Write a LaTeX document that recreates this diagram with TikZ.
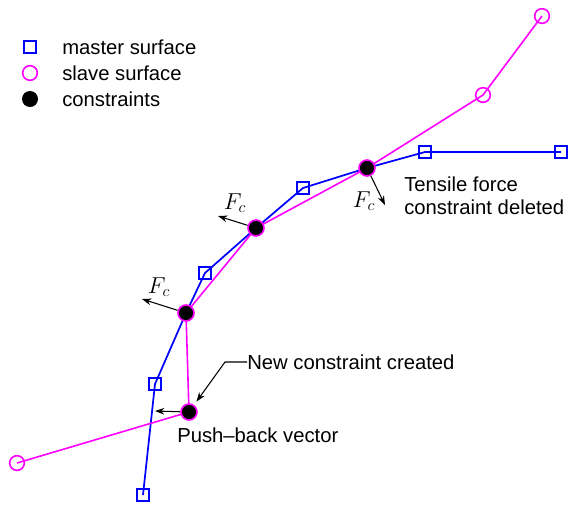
\documentclass[tikz,border=0pt]{standalone}
\usepackage{fontspec}
\setmainfont{Liberation Sans}
\usetikzlibrary{backgrounds,arrows.meta}
\definecolor{mblue}{RGB}{0,0,255}
\definecolor{smag}{RGB}{255,0,255}
\begin{document}
\begin{tikzpicture}[x=0.75pt,y=-0.75pt,>=stealth]
  \tikzstyle{master}=[draw=mblue, line width=1.3pt, minimum size=9.5pt, inner sep=0pt]
  \tikzstyle{slave}=[draw=smag, circle, line width=1.2pt, minimum size=11pt, inner sep=0pt]
  \tikzstyle{constraint}=[draw=smag, fill=black, circle, line width=1.2pt, minimum size=12pt, inner sep=0pt]
  \tikzstyle{force}=[-{Stealth[length=7pt,width=5pt]}, black, line width=0.8pt]
  \tikzstyle{lbl}=[font=\fontsize{15.2}{17}\selectfont, inner sep=0pt]
  \tikzstyle{fc}=[font=\LARGE, inner sep=0pt]
  \useasboundingbox (0,0) rectangle (570,504);

  % legend
  \node[master] (legm) at (30,47) {};
  \node[slave] (legs) at (30,73) {};
  \node[circle, fill=black, minimum size=12pt, inner sep=0pt] (legc) at (30,99) {};
  \node[lbl, anchor=west] (legmt) at (62,47) {master surface};
  \node[lbl, anchor=west] (legst) at (62,73) {slave surface};
  \node[lbl, anchor=west] (legct) at (62,99) {constraints};

  % master surface
  \node[master] (m1) at (143,495) {};
  \node[master] (m2) at (155,384) {};
  \node[master] (m3) at (205,273) {};
  \node[master] (m4) at (303,188) {};
  \node[master] (m5) at (425,152) {};
  \node[master] (m6) at (561,152) {};

  % slave surface
  \node[slave] (s1) at (17,463) {};
  \node[slave] (s2) at (483,95) {};
  \node[slave] (s3) at (542,16) {};

  % constraints
  \node[constraint] (cnew) at (189,412) {};
  \node[constraint] (c1) at (186,313) {};
  \node[constraint] (c2) at (256,228) {};
  \node[constraint] (c3) at (367,168) {};

  \begin{scope}[on background layer]
    \draw[mblue, line width=1.3pt] (m1.center) -- (m2.center) -- (c1.center) -- (m3.center) -- (c2.center) -- (m4.center) -- (c3.center) -- (m5.center) -- (m6.center);
    \draw[smag, line width=1.2pt] (s1.center) -- (cnew.center) -- (c1.center) -- (c2.center) -- (c3.center) -- (s2.center) -- (s3.center);
  \end{scope}

  % forces
  \coordinate (f1) at (142,299);
  \coordinate (f2) at (218,216);
  \coordinate (f3) at (385,205);
  \coordinate (fpush) at (155,411);
  \draw[force] (c1) -- (f1);
  \draw[force] (c2) -- (f2);
  \draw[force] (c3) -- (f3);
  \draw[force] (cnew) -- (fpush);
  \node[fc] (fc1) at (159,287) {$F_c$};
  \node[fc] (fc2) at (235,203) {$F_c$};
  \node[fc] (fc3) at (364,201) {$F_c$};

  % notes
  \node[lbl, anchor=west, align=left] (tensile) at (404,196) {Tensile force\\constraint deleted};
  \node[lbl, anchor=west] (newc) at (247,362) {New constraint created};
  \node[lbl, anchor=west] (push) at (177,435) {Push–back vector};
  \coordinate (bend) at (225,362);
  \draw[force, shorten >=3pt] (newc.west) -- (bend) -- (cnew);
\end{tikzpicture}
\end{document}
